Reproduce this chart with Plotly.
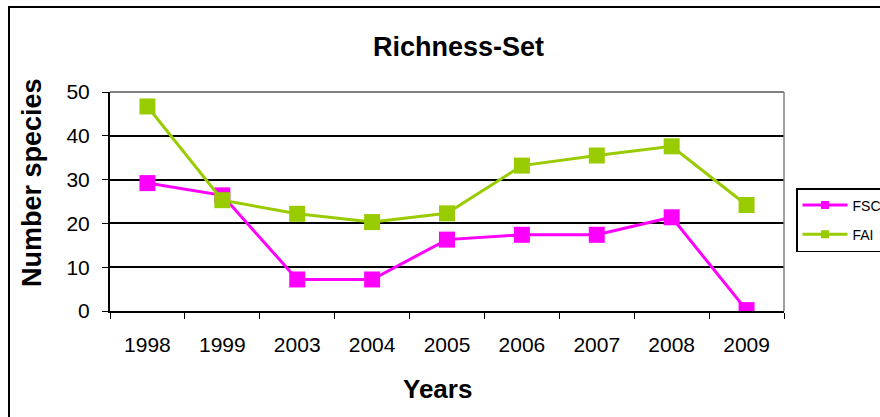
import plotly.graph_objects as go

# Sampling years (categorical axis) and species richness per set
years = ["1998", "1999", "2003", "2004", "2005", "2006", "2007", "2008", "2009"]
fsc = [29.2, 26.4, 7.2, 7.2, 16.3, 17.4, 17.4, 21.4, 0.2]
fai = [46.7, 25.3, 22.2, 20.3, 22.3, 33.2, 35.5, 37.6, 24.2]
y_ticks = [0, 10, 20, 30, 40, 50]

FSC_COLOR = "#FF00FF"
FAI_COLOR = "#99CC00"
FONT = "Arial, Liberation Sans, sans-serif"

W, H = 880, 417
L, R, T, B = 110, 96, 92, 106
PW, PH = W - L - R, H - T - B


def px_x(x):
    return (x - L) / PW


def px_y(y):
    return (H - B - y) / PH


fig = go.Figure()

for name, vals, col in [("FSC", fsc, FSC_COLOR), ("FAI", fai, FAI_COLOR)]:
    fig.add_trace(go.Scatter(
        x=years, y=vals, name=name, mode="lines+markers",
        line=dict(color=col, width=3),
        marker=dict(symbol="square", size=16, color=col),
        showlegend=False,
    ))

# legend entries with smaller symbols
for i, (name, col) in enumerate([("FSC", FSC_COLOR), ("FAI", FAI_COLOR)]):
    fig.add_trace(go.Scatter(
        x=[None], y=[None], name=name, mode="lines+markers",
        line=dict(color=col, width=3),
        marker=dict(symbol="square", size=8, color=col),
        legendgroup=f"g{i}", showlegend=True,
    ))

fig.update_xaxes(
    type="category", range=[-0.5, len(years) - 0.5],
    showline=True, linecolor="black", linewidth=2,
    ticks="outside", ticklen=6, tickcolor="black", tickwidth=1,
    tickson="boundaries", showgrid=False, zeroline=False,
    tickfont=dict(family=FONT, size=21, color="black"),
    ticklabelstandoff=14,
)
fig.update_yaxes(
    range=[0, 50], tickvals=y_ticks,
    showline=True, linecolor="black", linewidth=2,
    ticks="outside", ticklen=6, tickcolor="black", tickwidth=1,
    showgrid=True, gridcolor="black", gridwidth=1.5, zeroline=False,
    tickfont=dict(family=FONT, size=21, color="black"),
    ticklabelstandoff=8,
)

shapes = [
    # plot area border (top and right) in grey
    dict(type="line", xref="paper", yref="paper", x0=0, x1=1, y0=1, y1=1,
         line=dict(color="#808080", width=2), layer="above"),
    dict(type="line", xref="paper", yref="paper", x0=1, x1=1, y0=0, y1=1,
         line=dict(color="#808080", width=1.5), layer="above"),
    # chart area frame
    dict(type="rect", xref="paper", yref="paper",
         x0=px_x(9), x1=px_x(W + 40), y0=px_y(H + 40), y1=px_y(7),
         line=dict(color="black", width=2), fillcolor="rgba(0,0,0,0)"),
]

annotations = [
    dict(text="<b>Richness-Set</b>", xref="paper", yref="paper",
         x=px_x(459), y=px_y(47), xanchor="center", yanchor="middle",
         showarrow=False, font=dict(family=FONT, size=27, color="black")),
    dict(text="<b>Years</b>", xref="paper", yref="paper",
         x=px_x(437), y=px_y(389), xanchor="center", yanchor="middle",
         showarrow=False, font=dict(family=FONT, size=26, color="black")),
    dict(text="<b>Number species</b>", xref="paper", yref="paper",
         x=px_x(32), y=px_y(183), xanchor="center", yanchor="middle",
         textangle=-90, showarrow=False,
         font=dict(family=FONT, size=27, color="black")),
]

fig.update_layout(
    width=W, height=H,
    margin=dict(l=L, r=R, t=T, b=B, autoexpand=False),
    paper_bgcolor="white", plot_bgcolor="white",
    shapes=shapes, annotations=annotations,
    showlegend=True,
    legend=dict(
        x=px_x(796), y=px_y(188), xanchor="left", yanchor="top",
        bordercolor="black", borderwidth=1.5, bgcolor="white",
        font=dict(family=FONT, size=14, color="black"),
        traceorder="grouped", tracegroupgap=8, itemwidth=45,
    ),
)

fig.write_html("out.html")
